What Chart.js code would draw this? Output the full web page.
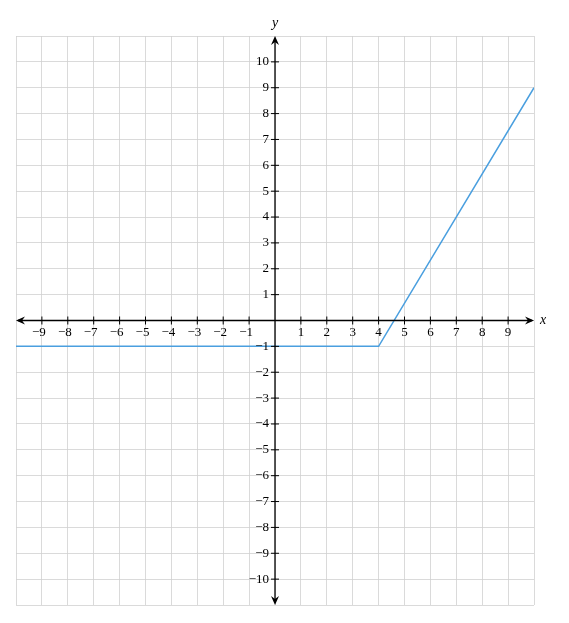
<!DOCTYPE html>
<html><head><script src="https://cdn.jsdelivr.net/npm/chart.js"></script>
<style>html,body{margin:0;padding:0;background:#fff}#w{width:569px;height:623px}</style></head>
<body><div id="w"><canvas id="c"></canvas></div>
<script>
const xs = [-10, 4, 10];
const ys = [-1, -1, 9];
const xTicks = [-9,-8,-7,-6,-5,-4,-3,-2,-1,1,2,3,4,5,6,7,8,9];
const yTicks = [-10,-9,-8,-7,-6,-5,-4,-3,-2,-1,1,2,3,4,5,6,7,8,9,10];
const FONT = '13px "Liberation Serif", serif';
const axesPlugin = {
  id:'axes',
  afterDatasetsDraw(chart){
    const {ctx, chartArea:a, scales:{x,y}} = chart;
    const ox = x.getPixelForValue(0), oy = y.getPixelForValue(0);
    ctx.save();
    ctx.strokeStyle='#000'; ctx.fillStyle='#000'; ctx.lineWidth=1.3;
    ctx.beginPath();
    ctx.moveTo(a.left+2, oy); ctx.lineTo(a.right-2, oy);
    ctx.moveTo(ox, a.top+2); ctx.lineTo(ox, a.bottom-2);
    ctx.stroke();
    const arrow=(px,py,dx,dy)=>{
      ctx.beginPath();
      ctx.moveTo(px,py);
      ctx.lineTo(px-dx*9-dy*4, py-dy*9-dx*4);
      ctx.lineTo(px-dx*6, py-dy*6);
      ctx.lineTo(px-dx*9+dy*4, py-dy*9+dx*4);
      ctx.closePath(); ctx.fill();
    };
    arrow(a.right,oy,1,0); arrow(a.left,oy,-1,0);
    arrow(ox,a.top,0,-1); arrow(ox,a.bottom,0,1);
    ctx.font=FONT; ctx.lineWidth=1;
    ctx.textAlign='center'; ctx.textBaseline='top';
    xTicks.forEach(v=>{
      const px=x.getPixelForValue(v);
      ctx.beginPath(); ctx.moveTo(px,oy-4); ctx.lineTo(px,oy+4); ctx.stroke();
      ctx.fillText(v<0?'\u2212'+(-v):String(v), px-(v<0?3:0), oy+6);
    });
    ctx.textAlign='right'; ctx.textBaseline='middle';
    yTicks.forEach(v=>{
      const py=y.getPixelForValue(v);
      ctx.beginPath(); ctx.moveTo(ox-4,py); ctx.lineTo(ox+4,py); ctx.stroke();
      ctx.fillText(v<0?'\u2212'+(-v):String(v), ox-6, py);
    });
    ctx.font='italic 14px "Liberation Serif", serif';
    ctx.textAlign='left'; ctx.fillText('x', a.right+6, oy);
    ctx.textAlign='center'; ctx.textBaseline='bottom'; ctx.fillText('y', ox, a.top-6);
    ctx.restore();
  }
};
new Chart(document.getElementById('c'), {
  type:'scatter',
  data:{datasets:[{data:xs.map((v,i)=>({x:v,y:ys[i]})), showLine:true, borderColor:'#4a9fdf', borderWidth:1.5, pointRadius:0, fill:false}]},
  options:{
    responsive:true, maintainAspectRatio:false, animation:false,
    layout:{padding:{left:16,right:35,top:36,bottom:18}},
    plugins:{legend:{display:false},tooltip:{enabled:false}},
    scales:{
      x:{type:'linear',min:-10,max:10,ticks:{display:false,stepSize:1},border:{display:false},grid:{color:'#d0d0d0',drawTicks:false,lineWidth:0.8}},
      y:{type:'linear',min:-11,max:11,ticks:{display:false,stepSize:1},border:{display:false},grid:{color:'#d0d0d0',drawTicks:false,lineWidth:0.8}}
    }
  },
  plugins:[axesPlugin]
});
</script></body></html>
